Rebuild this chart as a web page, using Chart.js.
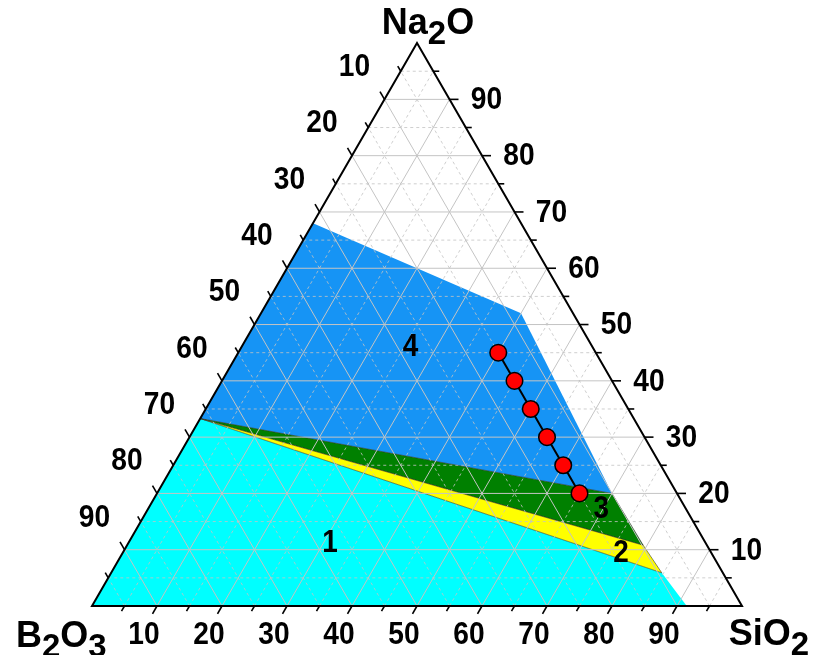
<!DOCTYPE html>
<html>
<head>
<meta charset="utf-8">
<script src="https://cdn.jsdelivr.net/npm/chart.js@4/dist/chart.umd.min.js"></script>
<style>
  html, body { margin: 0; padding: 0; background: #ffffff; }
  #wrap { width: 816px; height: 655px; }
</style>
</head>
<body>
<div id="wrap"><canvas id="chart" width="816" height="655"></canvas></div>
<script>
// Glass composition path, mol %
const pathSiO2 = [40, 45, 50, 55, 60, 65];
const pathNa2O = [45, 40, 35, 30, 25, 20];
const pathB2O3 = [15, 15, 15, 15, 15, 15];

// Region outlines, vertices as SiO2 / Na2O mol % (B2O3 is the remainder)
const region1SiO2 = [0, 91.5, 84.7, 0];
const region1Na2O = [0, 0, 5.9, 33.3];
const region2SiO2 = [0, 79.4, 84.7];
const region2Na2O = [33.3, 10.8, 5.9];
const region3SiO2 = [0, 70, 79.4];
const region3Na2O = [33.3, 20, 10.8];
const region4SiO2 = [0, 40, 70, 0];
const region4Na2O = [68, 52, 20, 33.3];
const regionNames = ['1', '2', '3', '4'];

// Axis ticks
const majorTicks = [10, 20, 30, 40, 50, 60, 70, 80, 90];
const minorTicks = [5, 15, 25, 35, 45, 55, 65, 75, 85, 95];

const H = Math.sqrt(3) / 2;
// ternary (SiO2, Na2O) -> cartesian data coordinates
function tern(s, n) { return { x: s + n / 2, y: n * H }; }

const regions = [
  { s: region1SiO2, n: region1Na2O, fill: '#00ffff', stroke: null },
  { s: region4SiO2, n: region4Na2O, fill: '#1694f5', stroke: null },
  { s: region3SiO2, n: region3Na2O, fill: '#008000', stroke: 'rgba(40,40,40,0.55)' },
  { s: region2SiO2, n: region2Na2O, fill: '#ffff00', stroke: 'rgba(40,40,40,0.55)' }
];
const regionLabelAt = [[31, 11.2], [76.7, 9.4], [69.8, 17.1], [26, 46]];

const FONT = '"Liberation Sans", Arial, sans-serif';

// condensed bold text, centred on (x, y)
function narrowText(ctx, t, x, y, size, squeeze) {
  ctx.save();
  ctx.font = 'bold ' + size + 'px ' + FONT;
  ctx.textAlign = 'center';
  ctx.textBaseline = 'middle';
  ctx.translate(x, y);
  ctx.scale(squeeze, 1);
  ctx.fillText(t, 0, 0);
  ctx.restore();
}

const ternaryPlugin = {
  id: 'ternary',
  beforeDatasetsDraw(chart) {
    const ctx = chart.ctx;
    const sx = chart.scales.x, sy = chart.scales.y;
    const P = (s, n) => { const c = tern(s, n); return [sx.getPixelForValue(c.x), sy.getPixelForValue(c.y)]; };
    ctx.save();

    // filled regions
    regions.forEach(r => {
      ctx.beginPath();
      r.s.forEach((s, i) => { const p = P(s, r.n[i]); i ? ctx.lineTo(p[0], p[1]) : ctx.moveTo(p[0], p[1]); });
      ctx.closePath();
      ctx.fillStyle = r.fill;
      ctx.fill();
      if (r.stroke) { ctx.strokeStyle = r.stroke; ctx.lineWidth = 1; ctx.stroke(); }
    });

    // grid
    const gridLine = (v, dashed) => {
      ctx.setLineDash(dashed ? [3, 3] : []);
      ctx.strokeStyle = dashed ? 'rgba(195,195,195,0.8)' : '#c4c4c4';
      ctx.lineWidth = 1;
      const segs = [
        [P(0, v), P(100 - v, v)],          // constant Na2O
        [P(v, 0), P(v, 100 - v)],          // constant SiO2
        [P(100 - v, 0), P(0, 100 - v)]     // constant B2O3
      ];
      segs.forEach(([a, b]) => { ctx.beginPath(); ctx.moveTo(a[0], a[1]); ctx.lineTo(b[0], b[1]); ctx.stroke(); });
    };
    minorTicks.forEach(v => gridLine(v, true));
    majorTicks.forEach(v => gridLine(v, false));
    ctx.setLineDash([]);

    // frame
    const A = P(0, 0), B = P(100, 0), C = P(0, 100);
    ctx.strokeStyle = '#000';
    ctx.lineWidth = 2;
    ctx.beginPath(); ctx.moveTo(A[0], A[1]); ctx.lineTo(B[0], B[1]); ctx.lineTo(C[0], C[1]); ctx.closePath(); ctx.stroke();

    // ticks
    ctx.lineWidth = 1.6;
    const tick = (p, dx, dy, len) => { ctx.beginPath(); ctx.moveTo(p[0], p[1]); ctx.lineTo(p[0] + dx * len, p[1] + dy * len); ctx.stroke(); };
    const all = majorTicks.map(v => [v, 9]).concat(minorTicks.map(v => [v, 6]));
    all.forEach(([v, len]) => {
      tick(P(v, 0), -0.5, H, len);            // SiO2 along bottom
      tick(P(100 - v, v), 1, 0, len);         // Na2O along right
      tick(P(0, 100 - v), -0.5, -H, len);     // B2O3 along left
    });

    // tick labels
    ctx.fillStyle = '#000';
    majorTicks.forEach(v => {
      const b = P(v, 0); narrowText(ctx, String(v), b[0] - 13, b[1] + 29, 32, 0.88);
      const r = P(100 - v, v); narrowText(ctx, String(v), r[0] + 37, r[1] + 1, 32, 0.88);
      const l = P(0, 100 - v); narrowText(ctx, String(v), l[0] - 30, l[1] - 32, 32, 0.88);
    });

    // region numbers
    regionNames.forEach((t, i) => { const p = P(regionLabelAt[i][0], regionLabelAt[i][1]); narrowText(ctx, t, p[0], p[1], 31, 0.9); });

    // component names with subscripts
    const formula = (parts, x, y, align) => {
      ctx.textBaseline = 'alphabetic';
      ctx.textAlign = 'left';
      const big = 'bold 36px ' + FONT, small = 'bold 33px ' + FONT;
      let w = 0;
      parts.forEach(([t, sub]) => { ctx.font = sub ? small : big; w += ctx.measureText(t).width; });
      let cx = align === 'center' ? x - w / 2 : align === 'right' ? x - w : x;
      parts.forEach(([t, sub]) => {
        ctx.font = sub ? small : big;
        ctx.fillText(t, cx, y + (sub ? 10 : 0));
        cx += ctx.measureText(t).width;
      });
    };
    formula([['Na', 0], ['2', 1], ['O', 0]], 428, 34, 'center');
    formula([['B', 0], ['2', 1], ['O', 0], ['3', 1]], 16, 647, 'left');
    formula([['Si', 0], ['O', 0], ['2', 1]], 809, 645, 'right');

    ctx.restore();
  }
};

const pts = pathSiO2.map((s, i) => tern(s, pathNa2O[i]));

const xpx = 6.5; // pixels per composition unit
new Chart(document.getElementById('chart'), {
  type: 'scatter',
  data: {
    datasets: [{
      label: 'B2O3 ' + pathB2O3[0] + ' mol%',
      data: pts,
      showLine: true,
      borderColor: '#000000',
      borderWidth: 2,
      pointRadius: 8.3,
      pointBackgroundColor: '#ff0000',
      pointBorderColor: '#000000',
      pointBorderWidth: 1.5
    }]
  },
  options: {
    responsive: false,
    animation: false,
    events: [],
    layout: { padding: 0, autoPadding: false },
    plugins: { legend: { display: false }, tooltip: { enabled: false } },
    scales: {
      x: { type: 'linear', display: false, min: -92 / xpx, max: (816 - 92) / xpx },
      y: { type: 'linear', display: false, min: -(655 - 606) / xpx, max: 606 / xpx }
    }
  },
  plugins: [ternaryPlugin]
});
</script>
</body>
</html>
